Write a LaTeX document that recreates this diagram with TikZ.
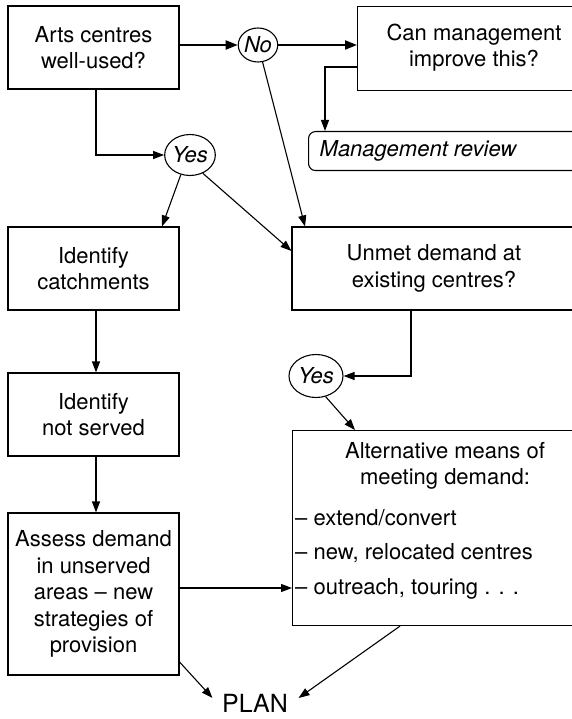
\documentclass[tikz,border=0pt]{standalone}
\usepackage{fontspec}
\setmainfont{TeX Gyre Heros}
\usetikzlibrary{arrows.meta,shapes.geometric}
\begin{document}
\begin{tikzpicture}[x=1pt,y=-1pt,
  every node/.style={font=\fontsize{22}{26.5}\selectfont},
  box/.style={draw,line width=1.1pt,rectangle,inner sep=0pt,align=center},
  txt/.style={inner sep=0pt,align=center},
  dec/.style={draw,line width=1.1pt,ellipse,inner sep=0pt,font=\fontsize{22}{26}\selectfont\itshape},
  arr/.style={line width=1.1pt,-{Triangle[length=11pt,width=8pt]}},
  thick arr/.style={line width=2pt,-{Triangle[length=12pt,width=9pt]}}
]
\useasboundingbox (0,0) rectangle (571,719);

\node[box,minimum width=171,minimum height=83] (box1) at (93.5,47.5) {Arts centres\\well-used?};
\node[dec,minimum width=34,minimum height=34] (no) at (258,45) {No};
\node[box,minimum width=240,minimum height=84,anchor=north west] (mgmt) at (357,6) {};
\node[txt] (mgmtt) at (474,47.5) {Can management\\improve this?};
\node[box,rounded corners=7pt,minimum width=280,minimum height=39,anchor=north west] (rev) at (308,131) {};
\node[txt,font=\fontsize{22}{26}\selectfont\itshape] (revt) at (418,150.5) {Management review};
\node[dec,minimum width=49,minimum height=41] (yes1) at (190,155) {Yes};
\node[box,minimum width=171,minimum height=83] (ic) at (93.5,268.5) {Identify\\catchments};
\node[box,minimum width=284,minimum height=83] (unmet) at (434,268.5) {Unmet demand at\\existing centres?};
\node[box,minimum width=171,minimum height=83] (ins) at (93.5,414.5) {Identify\\not served};
\node[box,minimum width=171,minimum height=162] (assess) at (93.5,594) {Assess demand\\in unserved\\areas -- new\\strategies of\\provision};
\node[dec,minimum width=54,minimum height=43] (yes2) at (316,376) {Yes};
\node[box,minimum width=300,minimum height=195,anchor=north west] (alt) at (292,430) {};
\node[txt,anchor=north] (altt) at (445,442) {Alternative means of\\meeting demand:};
\node[txt,anchor=north west,align=left,font=\fontsize{22}{34.5}\selectfont] (altl) at (295,509) {-- extend/convert\\-- new, relocated centres\\-- outreach, touring . . .};
\node[txt,font=\fontsize{25}{30}\selectfont] (plan) at (255,703) {PLAN};

\draw[thick arr] (box1.east |- no) -- (no);
\draw[thick arr] (no) -- (no -| mgmt.west);
\draw[arr] ([yshift=-61pt]mgmt.north west) -| ([xshift=17pt]rev.north west);
\draw[arr] ([xshift=2.5pt]box1.south) |- (yes1.west);
\draw[arr] (yes1.245) -- ([xshift=68.5pt]ic.north);
\draw[arr] (yes1.305) -- ([yshift=17.5pt]unmet.west);
\draw[arr] (no.285) -- ([xshift=-129pt]unmet.north);
\draw[arr] ([xshift=2.5pt]ic.south) -- ([xshift=2.5pt]ins.north);
\draw[arr] ([xshift=2.5pt]ins.south) -- ([xshift=2.5pt]assess.north);
\draw[arr] ([xshift=-23pt]unmet.south) |- (yes2.east);
\draw[arr] (yes2.295) -- ([xshift=63pt]alt.north west);
\draw[arr] ([yshift=6pt]assess.east) -- ([yshift=6pt]assess.east -| alt.west);
\draw[arr] ([yshift=-68pt]assess.east) -- ([xshift=-9.5pt,yshift=5pt]plan.west);
\draw[arr] ([xshift=108pt]alt.south west) -- ([xshift=10.5pt,yshift=5pt]plan.east);
\end{tikzpicture}
\end{document}
